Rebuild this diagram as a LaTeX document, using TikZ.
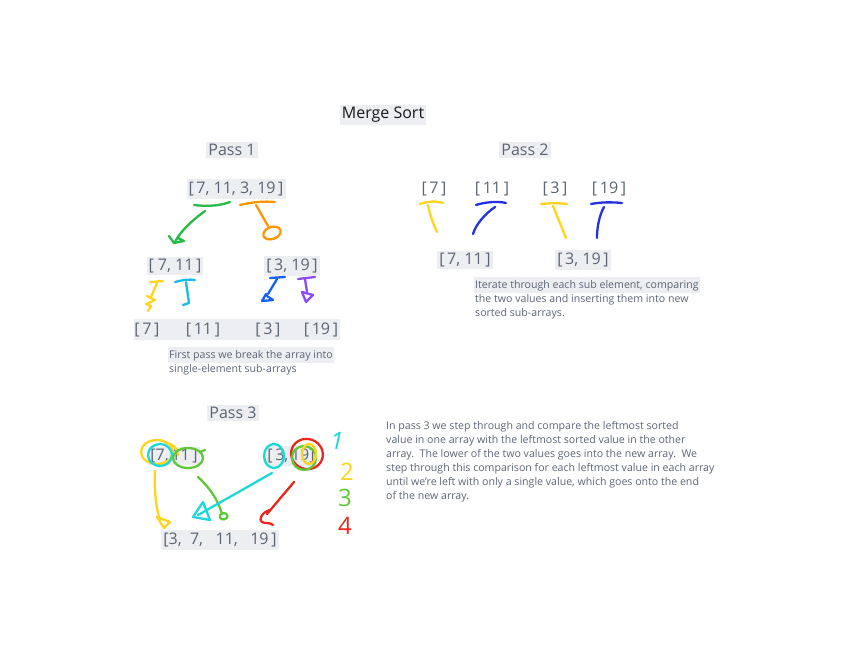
\documentclass[tikz,border=0pt]{standalone}
\usepackage{fontspec}
\setmainfont{Open Sans}
\definecolor{txtc}{RGB}{92,100,116}
\definecolor{bgc}{RGB}{236,238,241}
\definecolor{gr1}{RGB}{40,185,70}
\definecolor{org}{RGB}{255,150,0}
\definecolor{yel}{RGB}{255,212,30}
\definecolor{cy1}{RGB}{25,185,240}
\definecolor{bl1}{RGB}{20,95,240}
\definecolor{pur}{RGB}{140,75,248}
\definecolor{bl2}{RGB}{35,50,225}
\definecolor{cy3}{RGB}{30,215,215}
\definecolor{gr3}{RGB}{95,200,55}
\definecolor{red3}{RGB}{232,40,30}
\newcommand{\hlline}[1]{{\setlength{\fboxsep}{1pt}\hspace*{-1pt}\colorbox{bgc}{\strut #1}}}
\begin{document}
\begin{tikzpicture}[x=1pt,y=-1pt,
  lbl/.style={text=txtc, font=\fontsize{16}{19}\selectfont, inner xsep=2pt, inner ysep=2.5pt},
  bglbl/.style={lbl, fill=bgc},
  note/.style={text=txtc, font=\fontsize{10.6}{14}\selectfont, align=left, anchor=north west, inner sep=0pt},
  pen/.style={line width=2.3pt, line cap=round, line join=round},
  digit/.style={font=\fontsize{24}{24}\selectfont, inner sep=0pt}]
\useasboundingbox (0,0) rectangle (850,652);

% titles
\node[bglbl, text=black!90, font=\fontsize{16}{19}\selectfont] (title) at (383,115) {Merge Sort};
\node[bglbl] (p1) at (232,150) {Pass 1};
\node[bglbl] (p2) at (525,150) {Pass 2};
\node[bglbl] (p3) at (233,413) {Pass 3};

% ---------- Pass 1
\node[bglbl] (a0) at (236,189) {[\,7, 11, 3, 19\,]};
\node[bglbl] (a1) at (175,266) {[\ 7, 11\,]};
\node[bglbl] (a2) at (292,266) {[\,3, 19\,]};
\node[fill=bgc, minimum width=206, minimum height=21, inner sep=0pt] (rowbg) at (237,329) {};
\node[lbl] (s1) at (147,330) {[\,7\,]};
\node[lbl] (s2) at (203,330) {[\,11\,]};
\node[lbl] (s3) at (268,330) {[\,3\,]};
\node[lbl] (s4) at (321,330) {[\,19\,]};
\node[note] (n1) at (169,347) {\hlline{First pass we break the array into}\\single-element sub-arrays};

% green
\draw[pen, gr1] (194,205) .. controls (210,207) and (222,205) .. (230,202);
\draw[pen, gr1] (205,211) .. controls (190,222) and (180,232) .. (175,242);
\draw[pen, gr1] (169,236) -- (174,243) -- (184,241) -- (178,238);
% orange
\draw[pen, org] (240,205) .. controls (252,202) and (265,201) .. (275,202);
\draw[pen, org] (256,205) -- (268,226);
\draw[pen, org, rotate around={20:(272,233)}] (272,233) ellipse (9 and 6);
% yellow
\draw[pen, yel] (150,282) -- (163,281);
\draw[pen, yel] (157,283) -- (151,297);
\draw[pen, yel] (147,296) -- (155,300) -- (146,304) -- (151,306) -- (148,311);
% cyan
\draw[pen, cy1] (175,282) .. controls (182,280) and (189,279) .. (195,280);
\draw[pen, cy1] (186,282) -- (189,303) -- (183,305);
% blue
\draw[pen, bl1] (270,278) -- (285,277);
\draw[pen, bl1] (277,279) -- (268,294);
\draw[pen, bl1] (266,294) -- (262,301) -- (273,300) -- (267,296);
% purple
\draw[pen, pur] (298,279) -- (315,277);
\draw[pen, pur] (305,279) -- (307,292);
\draw[pen, pur] (302,292) -- (313,295) -- (306,302) -- cycle;

% ---------- Pass 2
\node[lbl] (b1) at (434,189) {[\,7\,]};
\node[lbl] (b2) at (492,189) {[\,11\,]};
\node[lbl] (b3) at (555,189) {[\,3\,]};
\node[lbl] (b4) at (609,189) {[\,19\,]};
\node[bglbl] (c1) at (465,260) {[\,7, 11\,]};
\node[bglbl] (c2) at (583,260) {[\,3, 19\,]};
\node[note] (n2) at (475,277) {\hlline{Iterate through each sub element, comparing}\\the two values and inserting them into new\\sorted sub-arrays.};

\draw[pen, yel] (420,204) .. controls (428,201) and (437,201) .. (443,203);
\draw[pen, yel] (428,205) .. controls (430,215) and (433,224) .. (437,232);
\draw[pen, bl2] (476,205) .. controls (485,202) and (498,201) .. (506,203);
\draw[pen, bl2] (495,207) .. controls (485,214) and (476,224) .. (473,234);
\draw[pen, yel] (541,204) .. controls (550,203) and (560,203) .. (567,204);
\draw[pen, yel] (553,206) .. controls (557,216) and (562,228) .. (566,238);
\draw[pen, bl2] (591,204) .. controls (601,202) and (612,202) .. (622,203);
\draw[pen, bl2] (604,207) .. controls (599,216) and (597,228) .. (597,238);

% ---------- Pass 3
\node[bglbl] (d1) at (174,456) {[7,\,11\,]};
\node[bglbl] (d2) at (291,456) {[\,3,\,19]};
\node[bglbl] (res) at (220,540) {[3,\ \ 7,\ \ \ 11,\ \ \ 19\,]};
\node[note] (n3) at (386,421) {In pass 3 we step through and compare the leftmost sorted\\value in one array with the leftmost sorted value in the other\\array.\ \ The lower of the two values goes into the new array.\ \ We\\step through this comparison for each leftmost value in each array\\until we're left with only a single value, which goes onto the end\\of the new array.};

% circles
\draw[pen, yel] (157,452) ellipse (16 and 12);
\draw[pen, yel] (165,443) .. controls (172,443) and (178,448) .. (178,455);
\draw[pen, cy3] (160,455) ellipse (12 and 11);
\draw[pen, gr3] (188,458) ellipse (15 and 10);
\draw[pen, gr3] (200,452) -- (205,450);
\draw[pen, cy3] (274,456) ellipse (10 and 12);
\draw[pen, red3, rotate around={-20:(307,454)}] (307,454) ellipse (16 and 15);
\draw[pen, gr3] (304,458) ellipse (12 and 12);
\draw[pen, yel] (309,454) ellipse (7 and 10);

% arrows
\draw[pen, yel] (155,471) .. controls (154,490) and (156,508) .. (160,520);
\draw[pen, yel] (157,517) -- (164,528) -- (170,522) -- cycle;
\draw[pen, gr3] (198,477) .. controls (210,488) and (218,500) .. (222,514);
\draw[pen, gr3] (220,515) .. controls (224,511) and (229,514) .. (227,518) .. controls (223,521) and (219,519) .. (220,515);
\draw[pen, cy3] (272,473) -- (198,515);
\draw[pen, cy3] (203,502) -- (193,517) -- (210,520) -- cycle;
\draw[pen, red3] (294,482) -- (267,514);
\draw[pen, red3] (270,510) .. controls (262,512) and (258,520) .. (262,522) .. controls (265,524) and (270,522) .. (273,525);

% digits
\node[digit, text=cy3] (k1) at (337,441) {\itshape 1};
\node[digit, text=yel] (k2) at (347,472) {2};
\node[digit, text=gr3] (k3) at (345,498) {3};
\node[digit, text=red3] (k4) at (345,526) {4};
\end{tikzpicture}
\end{document}
